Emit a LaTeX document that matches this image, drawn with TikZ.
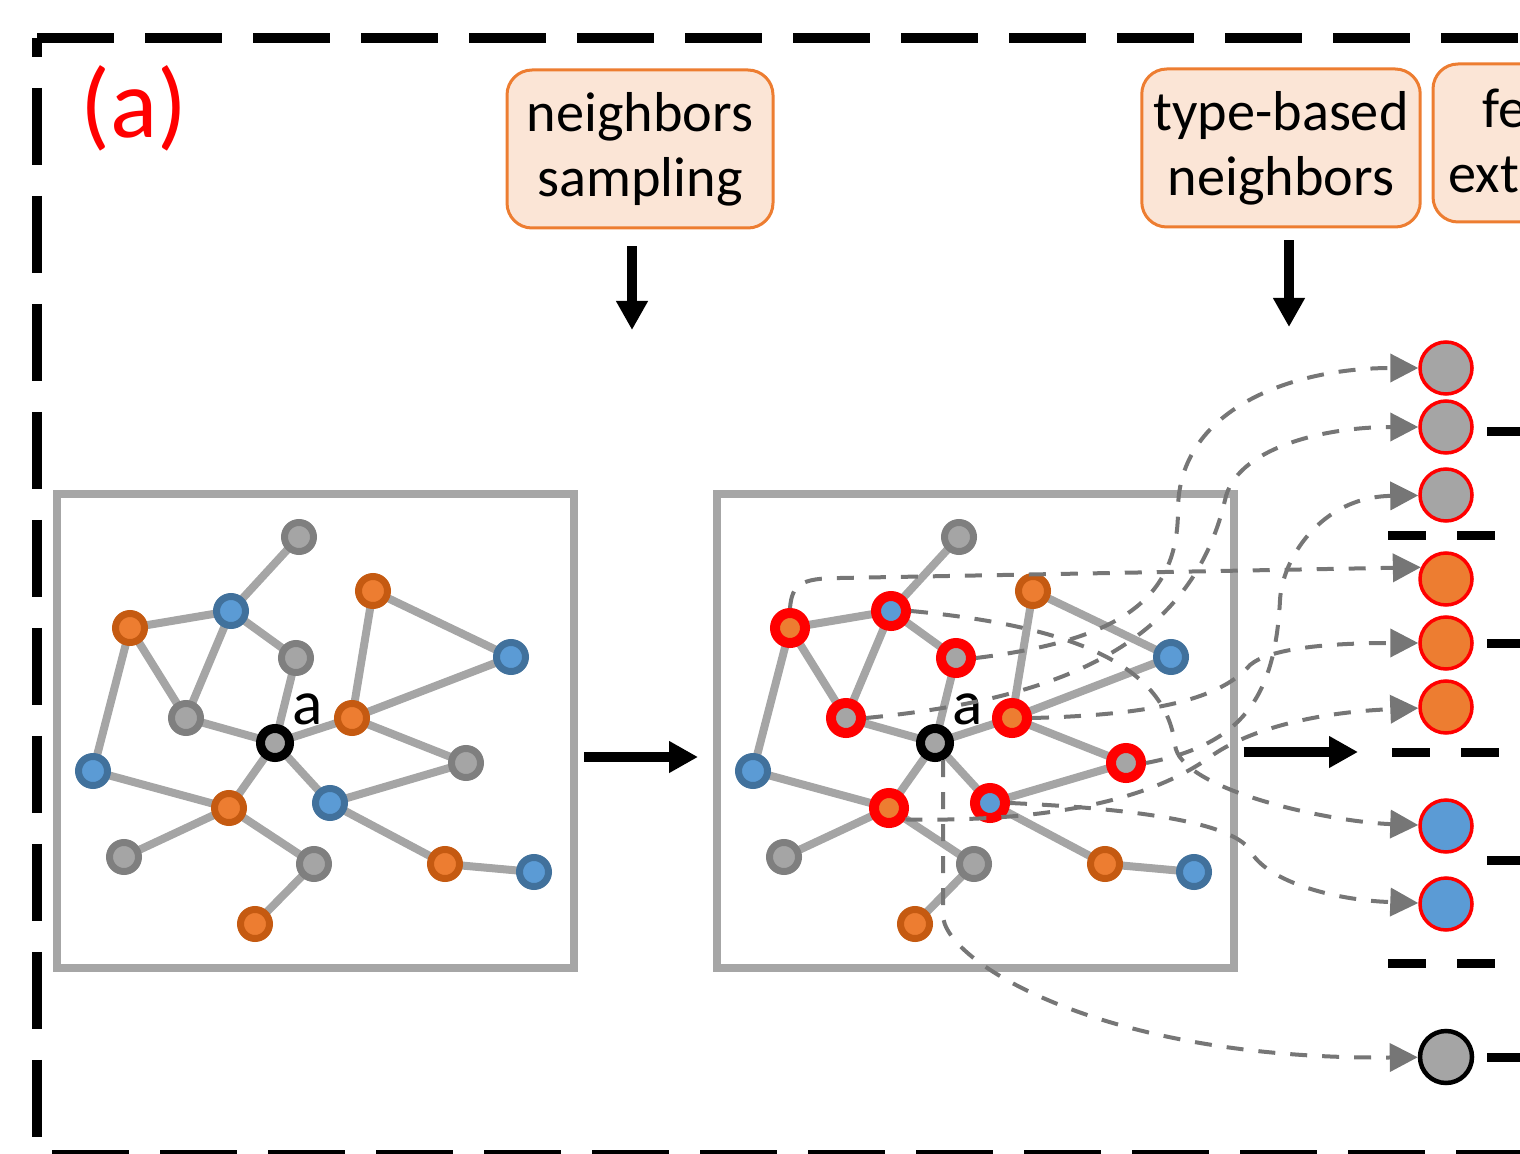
\documentclass[tikz,border=0pt]{standalone}
\usepackage{fontspec}
\setmainfont{Carlito}
\usetikzlibrary{positioning, arrows.meta}
\usetikzlibrary{backgrounds}

\definecolor{orangefill}{HTML}{ED7D31}
\definecolor{orangering}{HTML}{C55A11}
\definecolor{bluefill}{HTML}{5B9BD5}
\definecolor{bluering}{HTML}{41719C}
\definecolor{grayfill}{HTML}{A5A5A5}
\definecolor{grayring}{HTML}{7F7F7F}
\definecolor{stepfill}{HTML}{FBE5D6}
\definecolor{panelgray}{HTML}{A6A6A6}
\definecolor{linkgray}{HTML}{767676}

\tikzset{
	vertex/.style={circle,minimum size=2.9mm,inner sep=0pt,line width=0.7mm},
	onode/.style={vertex,fill=orangefill,draw=orangering},
	bnode/.style={vertex,fill=bluefill,draw=bluering},
	gnode/.style={vertex,fill=grayfill,draw=grayring},
	ohit/.style={vertex,minimum size=3mm,line width=1mm,fill=orangefill,draw=red},
	bhit/.style={vertex,minimum size=3mm,line width=1mm,fill=bluefill,draw=red},
	ghit/.style={vertex,minimum size=3mm,line width=1mm,fill=grayfill,draw=red},
	anode/.style={vertex,line width=0.9mm,fill=grayfill,draw=black,label={[inner sep=1pt,font=\fontsize{18}{20}\selectfont]45:a}},
	tie/.style={draw=grayfill,line width=0.8mm},
	panel/.style={draw=panelgray,line width=0.8mm,minimum width=51.7mm,minimum height=47.4mm},
	stepbox/.style={draw=orangefill,fill=stepfill,line width=0.3mm,rounded corners=2.5mm,minimum width=26.6mm,minimum height=15.8mm,align=center,font=\fontsize{16}{18.5}\selectfont},
	slot/.style={circle,minimum size=5.2mm,inner sep=0pt,line width=0.35mm,draw=red},
	flow/.style={-{Triangle[length=2.9mm,width=3mm]},line width=1mm},
	link/.style={-{Triangle[length=2.8mm,width=2.8mm]},draw=linkgray,line width=0.4mm,dash pattern=on 1.7mm off 1.5mm},
	frameline/.style={line width=1mm,dash pattern=on 7.7mm off 3.1mm},
	divider/.style={line width=0.9mm,dash pattern=on 3.8mm off 3.1mm},
	stub/.style={line width=0.9mm}
}

\begin{document}
\begin{tikzpicture}[x=0.1mm,y=-0.1mm]
	\useasboundingbox (0,0) rectangle (1520,1154);

	% outer dashed frame
	\draw[frameline] (37,38) -- (1530,38);
	\draw[frameline,dash phase=5.8mm] (37,38) -- (37,1155);
	\draw[frameline,dash phase=9.3mm] (37,1155) -- (1530,1155);
	\node[text=red,anchor=base west,inner sep=0pt,font=\fontsize{28}{32}\selectfont] (tag) at (80,138) {(a)};

	% steps
	\node (sampling) at (640,149) [stepbox] {neighbors\\sampling};
	\node (typed) at (1281,148) [stepbox] {type-based\\neighbors};
	\node (extract) at (1565,143) [stepbox,minimum width=26.4mm] {};
	\node (extract1) at (1482,128) [anchor=base west,inner sep=0pt,font=\fontsize{16}{18.5}\selectfont] {fe};
	\node (extract2) at (1448,193) [anchor=base west,inner sep=0pt,font=\fontsize{16}{18.5}\selectfont] {extr};

	\coordinate (sampletip) at (632,330);
	\coordinate (typetip) at (1289,327);
	\draw[flow,shorten <=1.7mm] (sampling.south -| sampletip) -- (sampletip);
	\draw[flow,shorten <=1.2mm] (typed.south -| typetip) -- (typetip);

	% the two graphs
	\node (before) at (315.5,731) [panel] {};
	\node (after) at (975,731) [panel] {};
	\foreach \n/\x/\y/\plain/\picked in {g1/299/537/gnode/gnode, b1/231/611/bnode/bhit, o1/130/628/onode/ohit,
		g2/296/658/gnode/ghit, o2/373/591/onode/onode, b2/511/657/bnode/bnode, g3/186/718/gnode/ghit,
		a/275/743/anode/anode, o3/352/718/onode/ohit, g4/466/763/gnode/ghit, b3/93/771/bnode/bnode,
		o4/229/808/onode/ohit, b4/330/803/bnode/bhit, g5/124/857/gnode/gnode, g6/314/864/gnode/gnode,
		o5/445/864/onode/onode, b5/534/872/bnode/bnode, o6/255/924/onode/onode}{
		\node (L\n) at (\x,\y) [\plain] {};
		\node (R\n) at (\x+660,\y) [\picked] {};
	}
	\begin{scope}[on background layer]
		\foreach \s in {L,R}{
			\foreach \u/\v in {g1/b1,o1/b1,o1/g3,o1/b3,b1/g3,b1/g2,g2/a,g3/a,a/o3,a/o4,a/b4,
				o2/o3,o2/b2,b2/o3,o3/g4,g4/b4,b3/o4,o4/g5,o4/g6,g6/o6,b4/o5,o5/b5}
				\draw[tie] (\s\u.center) -- (\s\v.center);
		}
	\end{scope}

	\coordinate (step1) at (698,757);
	\coordinate (step2) at (1358,752);
	\draw[flow,shorten <=0.6mm] (before.east |- step1) -- (step1);
	\draw[flow,shorten <=0.6mm] (after.east |- step2) -- (step2);

	% neighbors grouped by type
	\node (gray1) at (1446,368) [slot,fill=grayfill] {};
	\node (gray2) at (1446,427) [slot,fill=grayfill] {};
	\node (gray3) at (1446,495) [slot,fill=grayfill] {};
	\node (orange1) at (1446,579) [slot,fill=orangefill] {};
	\node (orange2) at (1446,643) [slot,fill=orangefill] {};
	\node (orange3) at (1446,707) [slot,fill=orangefill] {};
	\node (blue1) at (1446,826) [slot,fill=bluefill] {};
	\node (blue2) at (1446,904) [slot,fill=bluefill] {};
	\node (self) at (1446,1057) [slot,fill=grayfill,draw=black,line width=0.45mm] {};

	\draw[divider] (1388,535) -- (1495,535);
	\draw[divider] (1392,752) -- (1500,752);
	\draw[divider] (1388,963) -- (1495,963);
	\foreach \y in {432,643,860,1057}
		\draw[stub] (1487,\y) -- (1530,\y);

	\draw[link] (Rg2.east) .. controls (1120,640) and (1178,600) .. (1178,510) .. controls (1178,410) and (1290,368) .. (gray1);
	\draw[link] (Rg3.east) .. controls (1050,700) and (1190,650) .. (1225,500) .. controls (1235,450) and (1320,427) .. (gray2);
	\draw[link] (Rg4.east) .. controls (1240,745) and (1275,700) .. (1280,600) .. controls (1282,560) and (1320,497) .. (gray3);
	\draw[link] (Ro1.north) .. controls (792,585) and (800,578) .. (840,578) -- (orange1.155);
	\draw[link] (Ro3.east) .. controls (1150,715) and (1220,700) .. (1250,665) .. controls (1270,648) and (1330,643) .. (orange2);
	\draw[link] (Ro4.-35) .. controls (1050,822) and (1150,800) .. (1210,757) .. controls (1250,728) and (1320,712) .. (orange3);
	\draw[link] (Rb1.east) .. controls (1060,625) and (1165,660) .. (1175,745) .. controls (1180,790) and (1330,822) .. (blue1);
	\draw[link] (Rb4.east) .. controls (1120,808) and (1230,820) .. (1250,850) .. controls (1265,880) and (1330,900) .. (blue2);
	\draw[link] (Ra.-65) -- ++(0,155) .. controls +(0,45) and (1100,1060) .. (self);
\end{tikzpicture}
\end{document}
